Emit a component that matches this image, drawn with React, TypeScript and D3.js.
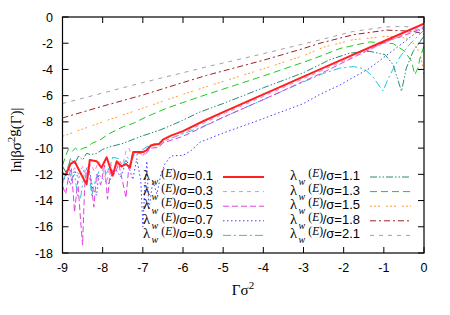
import React from 'react';
import * as d3 from 'd3';

type Pt = [number, number];

// values, one array per lambda_w/sigma
const lam01: Pt[] = [
  [-9, -11.9], [-8.92, -12.05], [-8.8, -11.2], [-8.7, -11.0], [-8.6, -11.6], [-8.5, -12.2],
  [-8.4, -12.75], [-8.32, -10.9], [-8.15, -11.0], [-8.03, -11.5], [-7.9, -10.7], [-7.75, -12.1],
  [-7.65, -11.0], [-7.53, -11.4], [-7.42, -11.2], [-7.32, -11.5], [-7.24, -10.3], [-7.0, -10.3],
  [-6.9, -10.15], [-6.8, -9.8], [-6.7, -9.7], [-6.6, -9.7], [-6.5, -9.35], [-6.3, -9.05],
  [-6.0, -8.7], [-5.5, -7.95], [-5.0, -7.25], [-4.0, -5.9], [-3.0, -4.55], [-2.0, -3.2],
  [-1.0, -1.85], [0, -0.5],
];
const lam03: Pt[] = [
  [-9, -12.5], [-8.9, -11.8], [-8.8, -12.2], [-8.7, -11.5], [-8.6, -12.0], [-8.5, -11.4],
  [-8.4, -12.2], [-8.3, -11.2], [-8.2, -11.8], [-8.1, -11.0], [-8.0, -11.6], [-7.9, -12.6],
  [-7.8, -11.2], [-7.7, -11.8], [-7.6, -10.9], [-7.5, -11.3], [-7.42, -10.2], [-7.35, -10.0],
  [-7.25, -10.8], [-7.1, -10.4], [-7.0, -10.6], [-6.9, -10.0], [-6.8, -10.1], [-6.7, -9.8],
  [-6.6, -9.85], [-6.5, -9.5], [-6.0, -8.85], [-5.0, -7.4], [-4.0, -6.05], [-3.0, -4.7],
  [-2.0, -3.35], [-1.0, -2.0], [-0.5, -1.35], [0, -0.7],
];
const lam05: Pt[] = [
  [-9, -12.9], [-8.92, -13.5], [-8.85, -12.2], [-8.78, -11.5], [-8.7, -14.9], [-8.62, -12.5],
  [-8.55, -15.5], [-8.5, -17.4], [-8.45, -13.0], [-8.4, -11.6], [-8.3, -12.3], [-8.22, -14.5],
  [-8.15, -12.0], [-8.05, -12.8], [-7.95, -11.3], [-7.88, -13.9], [-7.8, -11.5], [-7.7, -12.0],
  [-7.6, -11.2], [-7.5, -12.6], [-7.42, -13.8], [-7.35, -11.5], [-7.25, -10.6], [-7.1, -10.4],
  [-6.95, -10.5], [-6.8, -10.0], [-6.6, -9.95], [-6.5, -9.6], [-6.0, -9.1], [-5.58, -8.5],
  [-5.0, -7.65], [-4.0, -6.3], [-3.0, -4.9], [-2.59, -4.35], [-1.77, -3.1], [-0.93, -1.85],
  [-0.4, -1.3], [0, -0.8],
];
const lam07: Pt[] = [
  [-9, -12.7], [-8.9, -11.9], [-8.8, -12.8], [-8.7, -11.7], [-8.6, -12.3], [-8.5, -11.8],
  [-8.35, -11.4], [-8.3, -12.2], [-8.25, -13.1], [-8.15, -13.6], [-8.1, -12.0], [-7.95, -12.5],
  [-7.85, -12.7], [-7.7, -11.5], [-7.55, -12.2], [-7.4, -10.9], [-7.25, -12.4], [-7.15, -10.8],
  [-7.05, -12.5], [-7.0, -16.0], [-6.95, -13.0], [-6.9, -11.0], [-6.85, -14.7], [-6.75, -12.5],
  [-6.65, -13.5], [-6.55, -12.0], [-6.45, -11.2], [-6.3, -10.6], [-6.0, -10.55], [-5.8, -10.2],
  [-5.58, -9.55], [-5.0, -8.85], [-4.0, -7.75], [-3.0, -6.6], [-2.59, -5.9], [-2.1, -5.2],
  [-1.35, -3.9], [-0.6, -2.15], [-0.1, -0.97], [0, -0.8],
];
const lam09: Pt[] = [
  [-9, -12.6], [-8.92, -12.0], [-8.85, -11.3], [-8.78, -12.4], [-8.7, -12.0], [-8.62, -13.7],
  [-8.55, -13.8], [-8.45, -11.8], [-8.35, -11.5], [-8.27, -13.7], [-8.2, -12.6], [-8.1, -11.8],
  [-8.0, -11.67], [-7.9, -11.9], [-7.82, -11.4], [-7.75, -10.7], [-7.6, -10.8], [-7.5, -11.4],
  [-7.4, -10.7], [-7.28, -10.9], [-7.18, -10.3], [-7.05, -10.2], [-6.9, -9.9], [-6.75, -9.8],
  [-6.6, -9.65], [-6.5, -9.5], [-6.0, -8.9], [-5.58, -8.45], [-5.0, -7.65], [-4.0, -6.3],
  [-3.0, -4.95], [-2.5, -4.3], [-2.1, -3.9], [-1.75, -3.78], [-1.5, -3.95], [-1.3, -4.45],
  [-1.15, -5.1], [-1.02, -5.65], [-0.9, -4.75], [-0.75, -3.85], [-0.6, -3.05], [-0.35, -2.05],
  [-0.1, -1.3], [0, -1.0],
];
const lam11: Pt[] = [
  [-9, -11.4], [-8.9, -11.9], [-8.8, -10.8], [-8.7, -11.2], [-8.6, -10.6], [-8.5, -10.9],
  [-8.4, -10.4], [-8.3, -10.5], [-8.15, -10.4], [-8.0, -10.1], [-7.82, -9.9], [-7.49, -9.64],
  [-7.07, -9.13], [-6.57, -8.62], [-6.08, -7.98], [-5.58, -7.25], [-5.0, -6.6], [-4.0, -5.4],
  [-3.0, -4.25], [-2.34, -3.25], [-1.84, -2.75], [-1.35, -2.62], [-0.97, -2.87], [-0.77, -3.64],
  [-0.56, -5.67], [-0.44, -3.89], [-0.27, -2.62], [-0.1, -1.9], [0, -1.45],
];
const lam13: Pt[] = [
  [-9, -11.3], [-8.93, -10.7], [-8.86, -10.1], [-8.77, -10.3], [-8.68, -10.0], [-8.6, -10.2],
  [-8.48, -10.0], [-8.36, -9.9], [-8.27, -9.64], [-8.07, -9.38], [-7.82, -8.87], [-7.49, -8.37],
  [-7.24, -8.11], [-6.9, -7.6], [-6.41, -6.96], [-5.58, -6.08], [-5.0, -5.5], [-4.0, -4.5],
  [-3.0, -3.45], [-2.59, -3.0], [-2.09, -2.4], [-1.35, -1.9], [-0.77, -2.03], [-0.48, -2.62],
  [-0.31, -3.38], [-0.23, -4.4], [-0.15, -3.89], [-0.1, -3.13], [-0.03, -2.5], [0, -2.2],
];
const lam15: Pt[] = [
  [-9, -9.1], [-8, -8.0], [-7, -6.95], [-6, -5.9], [-5.41, -5.31], [-4, -3.95], [-3, -2.95],
  [-2.5, -2.3], [-1.76, -1.73], [-0.93, -1.47], [-0.44, -1.6], [-0.23, -2.1], [-0.1, -2.8],
  [-0.03, -3.8], [0, -4.6],
];
const lam18: Pt[] = [
  [-9, -7.7], [-8, -6.8], [-7, -5.95], [-6, -5.0], [-5.41, -4.45], [-4, -3.3], [-3, -2.4],
  [-2.59, -2.0], [-1.76, -1.35], [-0.93, -1.0], [-0.27, -1.09], [0, -1.3],
];
const lam21: Pt[] = [
  [-9, -6.6], [-8, -5.8], [-7, -5.0], [-6, -4.25], [-5.41, -3.8], [-4, -2.8], [-3, -2.05],
  [-2.59, -1.75], [-1.76, -1.1], [-0.93, -0.75], [-0.5, -0.72], [-0.19, -0.84], [0, -0.95],
];

const seriesData = [lam01, lam03, lam05, lam07, lam09, lam11, lam13, lam15, lam18, lam21];
const lambdaLabels = ['0.1', '0.3', '0.5', '0.7', '0.9', '1.1', '1.3', '1.5', '1.8', '2.1'];
const xTicks = [-9, -8, -7, -6, -5, -4, -3, -2, -1, 0];
const yTicks = [-18, -16, -14, -12, -10, -8, -6, -4, -2, 0];

const colors = ['#ff2020', '#ff80c8', '#e040e0', '#4040ff', '#20c8dc',
  '#2a8a78', '#20c820', '#ff9a30', '#a02020', '#a0a0aa'];
const dashes = ['', '4,4', '6,3', '1.5,2.5', '8,3,2,3',
  '7,2,1.5,2,1.5,2', '7,4', '2,2,2,2,2,6', '6,3,2,3', '4,5'];

const W = 450;
const H = 315;
const m = { left: 62.5, right: 26, top: 17, bottom: 62 };
const sans = '"Liberation Sans", Arial, Helvetica, sans-serif';
const serif = '"Liberation Serif", "Times New Roman", serif';

export default function App() {
  const x = d3.scaleLinear().domain([-9, 0]).range([m.left, W - m.right]);
  const y = d3.scaleLinear().domain([-18, 0]).range([H - m.bottom, m.top]);
  const line = d3.line<Pt>().x(d => x(d[0])).y(d => y(d[1]));
  const x0 = x(-9), x1 = x(0), y0 = y(-18), y1 = y(0);

  // gnuplot-style label: lambda with w below and (E) above, then /sigma=value
  const legendRow = (i: number) => {
    const col = i < 5 ? 0 : 1;
    const row = i % 5;
    const R = col === 0 ? 213 : 360;
    const B = 180 + row * 14.6;
    const s0 = col === 0 ? 223 : 370;
    return (
      <g key={'lg' + i}>
        <text x={R - 63} y={B} textAnchor="end" fontFamily={serif} fontSize={14.5}>λ</text>
        <text x={R - 61.5} y={B + 5} fontFamily={serif} fontStyle="italic" fontSize={10}>w</text>
        <text x={R - 37} y={B - 3} textAnchor="end" fontFamily={serif} fontSize={11.5}>
          (<tspan fontStyle="italic">E</tspan>)
        </text>
        <text x={R} y={B} textAnchor="end" fontFamily={sans} fontSize={13}>/σ={lambdaLabels[i]}</text>
        <line x1={s0} x2={s0 + 41} y1={B - 3} y2={B - 3} stroke={colors[i]}
          strokeWidth={i === 0 ? 2 : 1} strokeDasharray={dashes[i] || undefined} />
      </g>
    );
  };

  return (
    <div style={{ position: 'absolute', left: 0, top: 0, background: '#fff' }}>
      <svg width={W} height={H} viewBox={`0 0 ${W} ${H}`}>
        <defs>
          <clipPath id="plot-clip">
            <rect x={x0} y={y1} width={x1 - x0} height={y0 - y1} />
          </clipPath>
        </defs>

        <g clipPath="url(#plot-clip)">
          {seriesData.map((d, i) => (
            <path key={'s' + i} d={line(d) || ''} fill="none" stroke={colors[i]}
              strokeWidth={i === 0 ? 2 : 1} strokeDasharray={dashes[i] || undefined}
              strokeLinejoin="round" />
          )).reverse()}
        </g>

        {/* frame and inward ticks on all four sides */}
        <rect x={x0} y={y1} width={x1 - x0} height={y0 - y1} fill="none" stroke="#000" strokeWidth={1.2} />
        {xTicks.map(t => (
          <g key={'xt' + t}>
            <line x1={x(t)} x2={x(t)} y1={y0} y2={y0 - 6} stroke="#000" />
            <line x1={x(t)} x2={x(t)} y1={y1} y2={y1 + 6} stroke="#000" />
            <text x={x(t)} y={y0 + 19} textAnchor="middle" fontFamily={sans} fontSize={12.5}>{t}</text>
          </g>
        ))}
        {yTicks.map(t => (
          <g key={'yt' + t}>
            <line x1={x0} x2={x0 + 6} y1={y(t)} y2={y(t)} stroke="#000" />
            <line x1={x1} x2={x1 - 6} y1={y(t)} y2={y(t)} stroke="#000" />
            <text x={53} y={y(t) + 4.5} textAnchor="end" fontFamily={sans} fontSize={12.5}>{t}</text>
          </g>
        ))}

        {lambdaLabels.map((_, i) => legendRow(i))}

        <text x={243} y={295} textAnchor="middle" fontFamily={serif} fontSize={15}>
          Γσ<tspan dy={-6} fontSize={11}>2</tspan>
        </text>
        <text transform="translate(21,140) rotate(-90)" textAnchor="middle" fontFamily={serif} fontSize={15}>
          ln|βσ<tspan dy={-6} fontSize={11}>2</tspan><tspan dy={3}>g</tspan><tspan dy={3}>(Γ)|</tspan>
        </text>
      </svg>
    </div>
  );
}
